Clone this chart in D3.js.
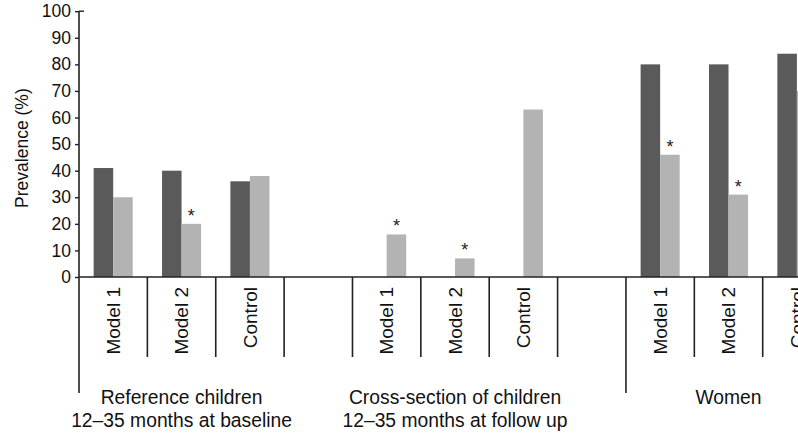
<!DOCTYPE html>
<html>
<head>
<meta charset="utf-8">
<script src="https://cdn.jsdelivr.net/npm/d3@7"></script>
<style>
  html, body { margin: 0; padding: 0; background: #fff; }
  svg { display: block; font-family: "Liberation Sans", Arial, sans-serif; }
</style>
</head>
<body>
<svg id="chart" width="798" height="435"></svg>
<script>
// slots along the x axis: three groups of three categories, with an empty slot between groups
const slots = ["g0-m1", "g0-m2", "g0-c", "gap0", "g1-m1", "g1-m2", "g1-c", "gap1", "g2-m1", "g2-m2", "g2-c"];
const categories = ["Model 1", "Model 2", "Control"];
const groupLabels = [
  ["Reference children", "12–35 months at baseline"],
  ["Cross-section of children", "12–35 months at follow up"],
  ["Women"],
];
const series = ["baseline", "followUp"];

// values per group, in category order (null = no bar)
const baselineValues = [
  [41, 40, 36],
  [null, null, null],
  [80, 80, 84],
];
const followUpValues = [
  [30, 20, 38],
  [16, 7, 63],
  [46, 31, 70],
];
const significant = [
  [false, true, false],
  [true, true, false],
  [true, true, false],
];
const yTicks = [0, 10, 20, 30, 40, 50, 60, 70, 80, 90, 100];

const colors = { baseline: "#5a5a5a", followUp: "#b3b3b3" };

const svg = d3.select("#chart");
const axisLeftX = 79;
const slotWidth = 68.37;
const zeroY = 277;

const x = d3
  .scaleBand()
  .domain(slots)
  .range([axisLeftX, axisLeftX + slots.length * slotWidth])
  .padding(0);

const sub = d3
  .scaleBand()
  .domain(series)
  .range([0, x.bandwidth()])
  .paddingInner(0)
  .paddingOuter(0.75);

const y = d3.scaleLinear().domain([0, 100]).range([zeroY, 11.2]);

const bars = [];
groupLabels.forEach((g, gi) => {
  categories.forEach((c, ci) => {
    const slot = slots[gi * 4 + ci];
    const b = baselineValues[gi][ci];
    const f = followUpValues[gi][ci];
    if (b !== null) bars.push({ slot, key: "baseline", value: b, star: false });
    if (f !== null) bars.push({ slot, key: "followUp", value: f, star: significant[gi][ci] });
  });
});

// bars
svg
  .append("g")
  .selectAll("rect")
  .data(bars)
  .join("rect")
  .attr("x", (d) => x(d.slot) + sub(d.key))
  .attr("width", sub.bandwidth())
  .attr("y", (d) => y(d.value))
  .attr("height", (d) => y(0) - y(d.value))
  .attr("fill", (d) => colors[d.key]);

// significance markers
svg
  .append("g")
  .selectAll("text")
  .data(bars.filter((d) => d.star))
  .join("text")
  .attr("x", (d) => x(d.slot) + sub(d.key) + sub.bandwidth() / 2)
  .attr("y", (d) => y(d.value) - 2)
  .attr("text-anchor", "middle")
  .attr("font-size", 18)
  .attr("fill", "#222")
  .text("*");

// y axis
const yAxis = svg
  .append("g")
  .attr("transform", `translate(${axisLeftX},0)`)
  .call(d3.axisLeft(y).tickValues(yTicks).tickSize(4).tickPadding(4));
yAxis.select(".domain").remove();
yAxis.selectAll(".tick line").attr("stroke", "#222").attr("stroke-width", 1.4);
yAxis
  .selectAll(".tick text")
  .attr("font-size", 17.5)
  .attr("font-family", "Liberation Sans, Arial, sans-serif")
  .attr("fill", "#111");

const lineColor = "#222";
// vertical axis line extends down past the category area
svg
  .append("line")
  .attr("x1", axisLeftX)
  .attr("x2", axisLeftX)
  .attr("y1", y(100))
  .attr("y2", 393)
  .attr("stroke", lineColor)
  .attr("stroke-width", 1.6);
svg
  .append("line")
  .attr("x1", axisLeftX)
  .attr("x2", axisLeftX + 5)
  .attr("y1", y(100))
  .attr("y2", y(100))
  .attr("stroke", lineColor)
  .attr("stroke-width", 1.4);

// horizontal baseline
svg
  .append("line")
  .attr("x1", axisLeftX)
  .attr("x2", 798)
  .attr("y1", y(0))
  .attr("y2", y(0))
  .attr("stroke", lineColor)
  .attr("stroke-width", 1.6);

// slot separators
const boundaries = d3.range(1, slots.length + 1);
svg
  .append("g")
  .selectAll("line")
  .data(boundaries)
  .join("line")
  .attr("x1", (i) => axisLeftX + i * x.step())
  .attr("x2", (i) => axisLeftX + i * x.step())
  .attr("y1", y(0))
  .attr("y2", (i) => (i === 8 ? 393 : 357))
  .attr("stroke", lineColor)
  .attr("stroke-width", 1.6);

// rotated category labels
const catLabels = [];
groupLabels.forEach((g, gi) => {
  categories.forEach((c, ci) => catLabels.push({ slot: slots[gi * 4 + ci], text: c }));
});
svg
  .append("g")
  .selectAll("text")
  .data(catLabels)
  .join("text")
  .attr("transform", (d) => `translate(${x(d.slot) + x.bandwidth() / 2},287) rotate(-90)`)
  .attr("dy", "0.35em")
  .attr("text-anchor", "end")
  .attr("font-size", 19)
  .attr("fill", "#111")
  .text((d) => d.text);

// group labels
const groupCenters = groupLabels.map((g, gi) => {
  const first = x(slots[gi * 4]);
  return first + (3 * x.step()) / 2;
});
const gl = svg
  .append("g")
  .selectAll("text")
  .data(groupLabels)
  .join("text")
  .attr("x", (d, i) => groupCenters[i])
  .attr("y", 404)
  .attr("text-anchor", "middle")
  .attr("font-size", 19.3)
  .attr("fill", "#111");
gl.selectAll("tspan")
  .data((d) => d)
  .join("tspan")
  .attr("x", function () {
    return d3.select(this.parentNode).attr("x");
  })
  .attr("dy", (d, i) => (i === 0 ? 0 : 23))
  .text((d) => d);

// y axis title
svg
  .append("text")
  .attr("transform", `translate(22,${(y(0) + y(100)) / 2 + 4}) rotate(-90)`)
  .attr("dy", "0.35em")
  .attr("text-anchor", "middle")
  .attr("font-size", 17.5)
  .attr("fill", "#111")
  .text("Prevalence (%)");
</script>
</body>
</html>
